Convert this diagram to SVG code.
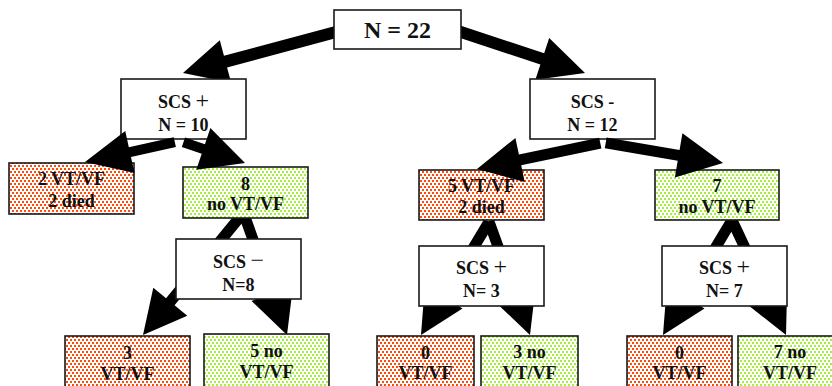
<svg xmlns="http://www.w3.org/2000/svg" width="832" height="386" viewBox="0 0 832 386">
<defs>
<pattern id="redDots" width="4" height="6" patternUnits="userSpaceOnUse">
<rect width="4" height="6" fill="#ffffff"/>
<rect x="0" y="0" width="2" height="2" fill="#ff4a0a"/>
<rect x="2" y="3" width="2" height="2" fill="#ff4a0a"/>
</pattern>
<pattern id="greenDots" width="4" height="6" patternUnits="userSpaceOnUse">
<rect width="4" height="6" fill="#ffffff"/>
<rect x="0" y="0" width="2" height="2" fill="#a3ee3e"/>
<rect x="2" y="3" width="2" height="2" fill="#a3ee3e"/>
</pattern>
</defs>
<style>
.box{fill:#ffffff;stroke:#1a1a1a;stroke-width:1.6}
.red{fill:url(#redDots);stroke:#1a1a1a;stroke-width:1.6}
.green{fill:url(#greenDots);stroke:#1a1a1a;stroke-width:1.6}
.arrow{fill:#000000}
text{font-family:"Liberation Serif","Times New Roman",serif;font-weight:bold;font-size:18px;fill:#111111;text-anchor:middle}
.big{font-size:24px}
.thin{font-weight:normal;font-size:24px}
</style>
<rect width="832" height="386" fill="#ffffff"/>

<g id="connectors-under">
<polygon class="arrow" transform="translate(183,73) rotate(165)" points="0,0 -44,-22 -44,-6 -165,-6 -165,6 -44,6 -44,22"/>
<polygon class="arrow" transform="translate(585,73) rotate(18.3)" points="0,0 -45,-22 -45,-6 -135,-6 -135,6 -45,6 -45,22"/>
<polygon class="arrow" transform="translate(143,335) rotate(129.4)" points="0,0 -43,-22 -43,-5.5 -153,-5.5 -153,5.5 -43,5.5 -43,22"/>
<polygon class="arrow" transform="translate(287,335) rotate(70.4)" points="0,0 -44,-22 -44,-5.5 -126,-5.5 -126,5.5 -44,5.5 -44,22"/>
<polygon class="arrow" transform="translate(421,335) rotate(121)" points="0,0 -44,-22 -44,-5.5 -132,-5.5 -132,5.5 -44,5.5 -44,22"/>
<polygon class="arrow" transform="translate(530,335) rotate(70.1)" points="0,0 -44,-22 -44,-5.5 -121,-5.5 -121,5.5 -44,5.5 -44,22"/>
<polygon class="arrow" transform="translate(663,335) rotate(121)" points="0,0 -44,-22 -44,-5.5 -135,-5.5 -135,5.5 -44,5.5 -44,22"/>
<polygon class="arrow" transform="translate(786,335) rotate(64.8)" points="0,0 -44,-22 -44,-5.5 -128,-5.5 -128,5.5 -44,5.5 -44,22"/>
</g>

<g id="n22">
<rect class="box" x="334" y="10" width="127" height="39"/>
<text class="big" x="397.5" y="38">N = 22</text>
</g>

<g id="scs-plus-10">
<rect class="box" x="121" y="79" width="125" height="60"/>
<text x="183.5" y="108">SCS <tspan class="thin">+</tspan></text>
<text x="183.5" y="131">N = 10</text>
</g>

<g id="scs-minus-12">
<rect class="box" x="530" y="79" width="125" height="60"/>
<text x="592.5" y="108">SCS -</text>
<text x="592.5" y="131">N = 12</text>
</g>

<g id="vtvf-2-died">
<rect class="red" x="9" y="163" width="125" height="51"/>
<text x="71.5" y="185">2 VT/VF</text>
<text x="71.5" y="207">2 died</text>
</g>

<g id="no-vtvf-8">
<rect class="green" x="183" y="167" width="125" height="51"/>
<text x="245.5" y="190">8</text>
<text x="245.5" y="210">no VT/VF</text>
</g>

<g id="vtvf-5-died">
<rect class="red" x="419" y="170" width="125" height="50"/>
<text x="481.5" y="192">5 VT/VF</text>
<text x="481.5" y="213">2 died</text>
</g>

<g id="no-vtvf-7">
<rect class="green" x="655" y="170" width="124" height="50"/>
<text x="717" y="192">7</text>
<text x="717" y="213">no VT/VF</text>
</g>

<g id="scs-minus-8">
<rect class="box" x="176" y="239" width="125" height="60"/>
<text x="238.5" y="268">SCS <tspan class="thin">−</tspan></text>
<text x="238.5" y="291">N=8</text>
</g>

<g id="scs-plus-3">
<rect class="box" x="419" y="246" width="125" height="60"/>
<text x="481.5" y="274">SCS <tspan class="thin">+</tspan></text>
<text x="481.5" y="297">N= 3</text>
</g>

<g id="scs-plus-7">
<rect class="box" x="662" y="246" width="125" height="60"/>
<text x="724.5" y="274">SCS <tspan class="thin">+</tspan></text>
<text x="724.5" y="297">N= 7</text>
</g>

<g id="vtvf-3">
<rect class="red" x="65" y="336" width="125" height="60"/>
<text x="127.5" y="359">3</text>
<text x="127.5" y="380">VT/VF</text>
</g>

<g id="no-vtvf-5">
<rect class="green" x="204" y="334" width="125" height="62"/>
<text x="266.5" y="357">5 no</text>
<text x="266.5" y="378">VT/VF</text>
</g>

<g id="vtvf-0-mid">
<rect class="red" x="377" y="336" width="97" height="60"/>
<text x="425.5" y="359">0</text>
<text x="425.5" y="379">VT/VF</text>
</g>

<g id="no-vtvf-3">
<rect class="green" x="481" y="336" width="97" height="60"/>
<text x="529.5" y="358">3 no</text>
<text x="529.5" y="379">VT/VF</text>
</g>

<g id="vtvf-0-right">
<rect class="red" x="627" y="336" width="105" height="60"/>
<text x="679.5" y="359">0</text>
<text x="679.5" y="379">VT/VF</text>
</g>

<g id="no-vtvf-7b">
<rect class="green" x="738" y="336" width="104" height="60"/>
<text x="790" y="358">7 no</text>
<text x="790" y="379">VT/VF</text>
</g>

<g id="connectors-over">
<polygon class="arrow" transform="translate(85,162) rotate(167.5)" points="0,0 -46,-21.5 -46,-5 -92,-5 -92,5 -46,5 -46,21.5"/>
<polygon class="arrow" transform="translate(245,163) rotate(18.7)" points="0,0 -44,-22 -44,-5 -65,-5 -65,5 -44,5 -44,22"/>
<polygon class="arrow" transform="translate(477,169) rotate(168.1)" points="0,0 -44,-22.5 -44,-5.5 -126,-5.5 -126,5.5 -44,5.5 -44,22.5"/>
<polygon class="arrow" transform="translate(723,163) rotate(9.7)" points="0,0 -45,-22.5 -45,-5.5 -119,-5.5 -119,5.5 -45,5.5 -45,22.5"/>
</g>
</svg>
